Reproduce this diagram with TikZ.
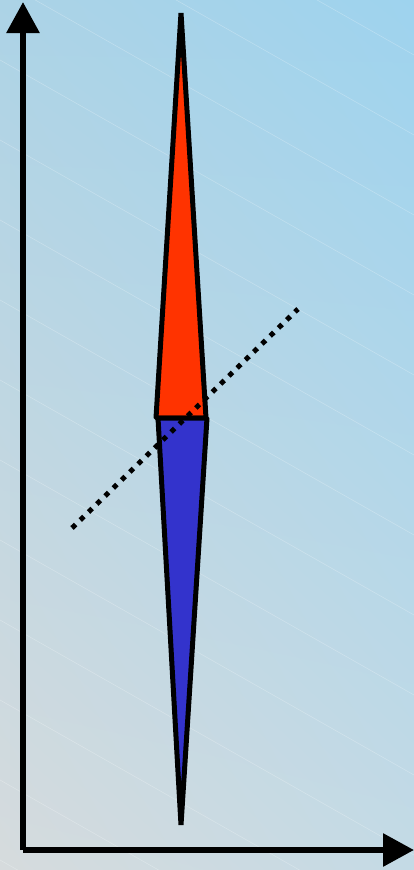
\documentclass[tikz,border=0pt]{standalone}
\usepackage{tikz}
\usetikzlibrary{arrows.meta, shadings}

\definecolor{skyblue}{RGB}{158,211,238}
\definecolor{paleblue}{RGB}{172,211,230}
\definecolor{palegray}{RGB}{214,219,221}
\definecolor{mistblue}{RGB}{196,218,229}
\definecolor{needlered}{RGB}{255,51,0}
\definecolor{needleblue}{RGB}{51,51,204}

\tikzset{
  axisline/.style={line width=6pt, -{Triangle[length=31pt,width=32pt]}},
  needle/.style={draw=black, line width=5pt, line join=bevel},
  pivotline/.style={line width=5pt, dash pattern=on 5pt off 6.5pt}
}

\begin{document}
\begin{tikzpicture}[x=1pt,y=-1pt]
\useasboundingbox (0,0) rectangle (414,870);
% background
\shade[upper left=paleblue, upper right=skyblue, lower left=palegray, lower right=mistblue]
  (0,0) rectangle (414,870);
\begin{scope}
\clip (0,0) rectangle (414,870);
\foreach \k in {-260,-180,...,870}
  \draw[white, opacity=0.25, line width=0.6pt] (0,\k) -- (414,\k+235);
\end{scope}

% points
\coordinate (origin) at (23,850);
\coordinate (yend) at (23,2);
\coordinate (xend) at (414,850);
\coordinate (top) at (181,13);
\coordinate (bottom) at (181,825);
\coordinate (midleft) at (156,418);
\coordinate (midright) at (206,418);
\coordinate (lowleft) at (158,418);
\coordinate (lowright) at (207,418);
\coordinate (pivotA) at (72,528);
\coordinate (pivotB) at (298,309);

% axes
\draw[axisline] (origin) -- (yend);
\draw[axisline] (origin) -- (xend);

% needle
\filldraw[needle, fill=needlered] (top) -- (midright) -- (midleft) -- cycle;
\filldraw[needle, fill=needleblue] (bottom) -- (lowright) -- (lowleft) -- cycle;

% pivot line
\draw[pivotline] (pivotA) -- (pivotB);
\end{tikzpicture}
\end{document}
